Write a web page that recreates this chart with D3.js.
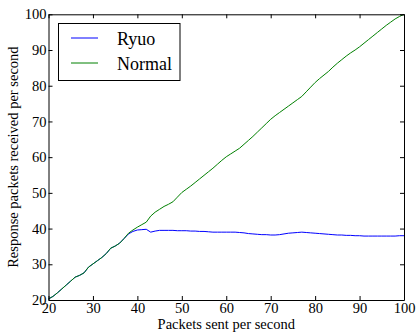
<!DOCTYPE html>
<html><head><meta charset="utf-8">
<script src="https://cdn.jsdelivr.net/npm/d3@7"></script>
<style>body{margin:0;background:#fff}svg{display:block}
svg text{font-family:serif}</style>
</head><body>
<script>
const xValues = d3.range(20, 101);
const normal = [20.3,21.0,22.0,23.1,24.2,25.3,26.4,26.9,27.6,29.2,30.1,31.0,31.9,33.0,34.5,35.1,35.9,37.2,38.7,39.6,40.4,41.1,41.8,43.5,44.6,45.4,46.2,46.8,47.5,48.8,50.1,51.0,51.9,52.9,53.9,54.9,55.9,56.9,58.0,59.1,60.1,60.9,61.7,62.5,63.6,64.7,65.8,67.0,68.2,69.4,70.6,71.6,72.5,73.4,74.3,75.2,76.1,77.0,78.3,79.6,80.9,82.0,83.0,84.0,85.2,86.3,87.3,88.3,89.2,90.0,90.9,91.9,92.9,93.9,94.9,95.9,96.9,97.8,98.7,99.4,100.0];
const ryuo = [20.3,21.0,22.0,23.1,24.2,25.3,26.4,26.9,27.6,29.2,30.1,31.0,31.9,33.0,34.5,35.1,35.9,37.2,38.5,39.2,39.6,39.7,39.8,39.0,39.3,39.5,39.5,39.5,39.5,39.4,39.4,39.4,39.3,39.3,39.2,39.2,39.1,39.0,39.0,39.0,39.0,39.0,39.0,38.9,38.8,38.6,38.5,38.4,38.3,38.3,38.2,38.2,38.3,38.5,38.7,38.8,38.9,39.0,38.9,38.8,38.7,38.6,38.5,38.4,38.3,38.2,38.2,38.1,38.1,38.0,38.0,37.9,37.9,37.9,37.9,37.9,37.9,37.9,37.9,38.0,38.0];
const xTicks = [20,30,40,50,60,70,80,90,100];
const yTicks = [20,30,40,50,60,70,80,90,100];
const seriesNames = ["Ryuo","Normal"];
const seriesColors = ["#0000ff","#008000"];

const W=418,H=333, L=48.5,R=404,T=14.3,B=300;
const svg=d3.select("body").append("svg").attr("width",W).attr("height",H);
const x=d3.scaleLinear().domain([20,100]).range([L,R]);
const y=d3.scaleLinear().domain([20,100]).range([B,T]);

const line=d3.line().x((d,i)=>x(xValues[i])).y(d=>y(d));
[ryuo, normal].forEach((s,k)=>{
  svg.append("path").datum(s).attr("d",line).attr("fill","none")
    .attr("stroke",seriesColors[k]).attr("stroke-width",1);
});

const fmt=d3.format("d");
const gb=svg.append("g").attr("transform",`translate(0,${B})`)
  .call(d3.axisBottom(x).tickValues(xTicks).tickFormat(fmt).tickSizeInner(-4).tickSizeOuter(0).tickPadding(3));
const gt=svg.append("g").attr("transform",`translate(0,${T})`)
  .call(d3.axisTop(x).tickValues(xTicks).tickFormat("").tickSizeInner(-4).tickSizeOuter(0));
const gl=svg.append("g").attr("transform",`translate(${L},0)`)
  .call(d3.axisLeft(y).tickValues(yTicks).tickFormat(fmt).tickSizeInner(-4).tickSizeOuter(0).tickPadding(2));
const gr=svg.append("g").attr("transform",`translate(${R},0)`)
  .call(d3.axisRight(y).tickValues(yTicks).tickFormat("").tickSizeInner(-4).tickSizeOuter(0));
[gb,gt,gl,gr].forEach(g=>{
  g.attr("font-family",null).attr("font-size",null);
  g.select(".domain").attr("stroke","#000").attr("stroke-width",1);
  g.selectAll(".tick line").attr("stroke","#000");
  g.selectAll("text").attr("font-size",14.5).attr("fill","#000");
});

svg.append("text").attr("x",(L+R)/2).attr("y",329).attr("text-anchor","middle")
  .attr("font-size",14.5).text("Packets sent per second");
svg.append("text").attr("transform",`translate(18,${(T+B)/2}) rotate(-90)`).attr("text-anchor","middle")
  .attr("font-size",14.5).text("Response packets received per second");

const lg=svg.append("g");
lg.append("rect").attr("x",58.5).attr("y",23.5).attr("width",121.5).attr("height",57)
  .attr("fill","#fff").attr("stroke","#000").attr("stroke-width",1);
seriesNames.forEach((n,i)=>{
  const yy=38+i*25;
  lg.append("line").attr("x1",71).attr("x2",98).attr("y1",yy).attr("y2",yy).attr("stroke",seriesColors[i]).attr("stroke-width",1);
  lg.append("text").attr("x",117).attr("y",yy+6.5).attr("font-size",18).text(n);
});
</script>
</body></html>
